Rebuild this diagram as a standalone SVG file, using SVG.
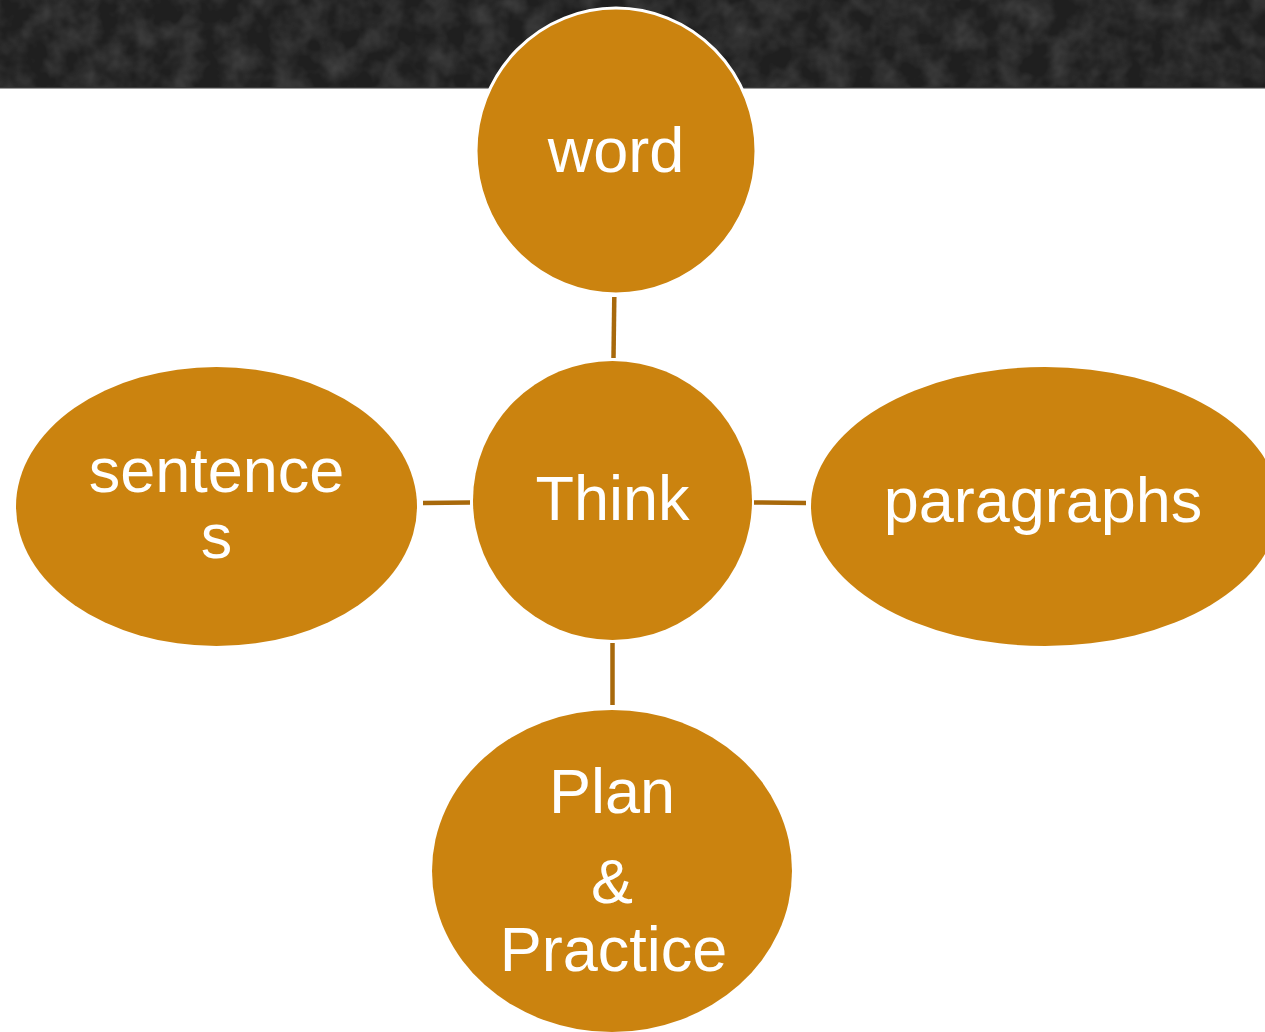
<svg xmlns="http://www.w3.org/2000/svg" width="1265" height="1032" viewBox="0 0 1265 1032">
  <defs>
    <filter id="grain" x="0" y="0" width="100%" height="100%">
      <feTurbulence type="fractalNoise" baseFrequency="0.04" numOctaves="3" seed="4" result="n"/>
      <feColorMatrix in="n" type="matrix" values="0 0 0 0 0.2  0 0 0 0 0.2  0 0 0 0 0.2  0 0 0 0.6 -0.2" result="c"/>
      <feComposite in="c" in2="SourceGraphic" operator="in"/>
    </filter>
  </defs>
  <style>
    .node { fill: #CB830F; }
    .lbl { font-family: "Liberation Sans", Arial, sans-serif; font-size: 63px; fill: #FFFFFF; text-anchor: middle; }
    .conn { stroke: #A8690B; stroke-width: 4.5; fill: none; }
  </style>
  <rect x="0" y="0" width="1265" height="1032" fill="#FFFFFF"/>
  <g id="header">
    <rect x="0" y="0" width="1265" height="88" fill="#1f1f1f"/>
    <rect x="0" y="0" width="1265" height="88" fill="#1f1f1f" filter="url(#grain)"/>
    <rect x="0" y="87" width="1265" height="1.5" fill="#3a3a3a"/>
  </g>
  <g id="connectors">
    <line class="conn" x1="614.3" y1="297" x2="613.5" y2="358"/>
    <line class="conn" x1="423" y1="503" x2="470" y2="502.5"/>
    <line class="conn" x1="754" y1="502.5" x2="806" y2="503"/>
    <line class="conn" x1="612.5" y1="643" x2="612.5" y2="705"/>
  </g>
  <g id="node-word">
    <ellipse class="node" cx="616" cy="151" rx="140" ry="143" stroke="#FFFFFF" stroke-width="3"/>
    <text class="lbl" x="616" y="172">word</text>
  </g>
  <g id="node-think">
    <circle class="node" cx="612.5" cy="500.5" r="139.5"/>
    <text class="lbl" x="612.5" y="520">Think</text>
  </g>
  <g id="node-sentences">
    <ellipse class="node" cx="216.5" cy="506.5" rx="200.5" ry="139.5"/>
    <text class="lbl" x="216.5" y="492">sentence</text>
    <text class="lbl" x="216.5" y="558">s</text>
  </g>
  <g id="node-paragraphs">
    <ellipse class="node" cx="1045" cy="506.5" rx="234" ry="139.5"/>
    <text class="lbl" x="1043" y="522">paragraphs</text>
  </g>
  <g id="node-plan">
    <ellipse class="node" cx="612" cy="871" rx="180" ry="161"/>
    <text class="lbl" x="612" y="813">Plan</text>
    <text class="lbl" x="612" y="903">&amp;</text>
    <text class="lbl" x="613.5" y="971">Practice</text>
  </g>
</svg>
